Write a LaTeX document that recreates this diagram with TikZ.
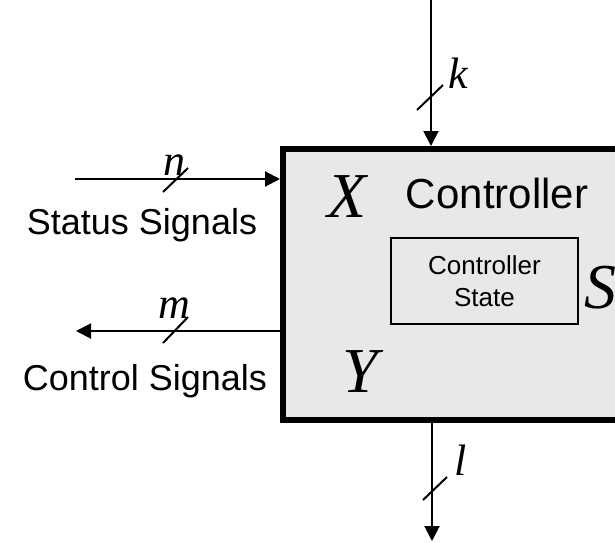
\documentclass[tikz,border=0pt]{standalone}
\usepackage{fontspec}
\setmainfont{Liberation Sans}
\newfontfamily\tms{Liberation Serif}
\usetikzlibrary{arrows.meta,calc}
\begin{document}
\begin{tikzpicture}[x=1pt,y=-1pt,
  sig/.style={line width=2pt,-{Triangle[length=15pt,width=15pt]}},
  slash/.style={line width=2pt},
  lbl/.style={font=\tms\itshape\fontsize{44}{44}\selectfont,inner sep=0pt,anchor=base},
  big/.style={font=\tms\itshape\fontsize{64}{64}\selectfont,inner sep=0pt,anchor=base},
  sans/.style={font=\fontsize{36}{36}\selectfont,inner sep=0pt,anchor=base}]
\useasboundingbox (0,0) rectangle (615,542);
\clip (0,0) rectangle (615,542);
\node[draw,line width=6pt,fill=black!9,minimum width=377pt,minimum height=271pt,inner sep=0pt] (ctrl) at (471.5,284.5) {};
\node[draw,line width=2.5pt,minimum width=187pt,minimum height=86pt,align=center,inner sep=0pt,font=\fontsize{26}{32}\selectfont] (state) at (484.5,281) {Controller\\State};
\node[font=\fontsize{42}{42}\selectfont,inner sep=0pt,anchor=base] (title) at (497,208) {Controller};
\node[big] (X) at (347,217) {X};
\node[big] (Y) at (360,392) {Y};
\node[big] (S) at (600,308) {S};
\node[sans] (status) at (142,234) {Status Signals};
\node[sans] (control) at (145,390) {Control Signals};
\node[lbl] (k) at (458,88) {k};
\node[lbl] (n) at (174,175) {n};
\node[lbl] (m) at (174,318) {m};
\node[lbl] (l) at (461,475) {l};
\coordinate (ktop) at (431,0);
\coordinate (nleft) at (75,179);
\coordinate (mleft) at (76,331);
\coordinate (lbot) at (432,541);
\draw[sig] (ktop) -- (ktop |- ctrl.north);
\draw[sig] (nleft) -- (nleft -| ctrl.west);
\draw[sig] (mleft -| ctrl.west) -- (mleft);
\draw[sig] (lbot |- ctrl.south) -- (lbot);
\draw[slash] (417,110) -- (443,85);
\draw[slash] (163,192) -- (188,168);
\draw[slash] (163,343) -- (188,317);
\draw[slash] (423,500) -- (447,477);
\end{tikzpicture}
\end{document}
